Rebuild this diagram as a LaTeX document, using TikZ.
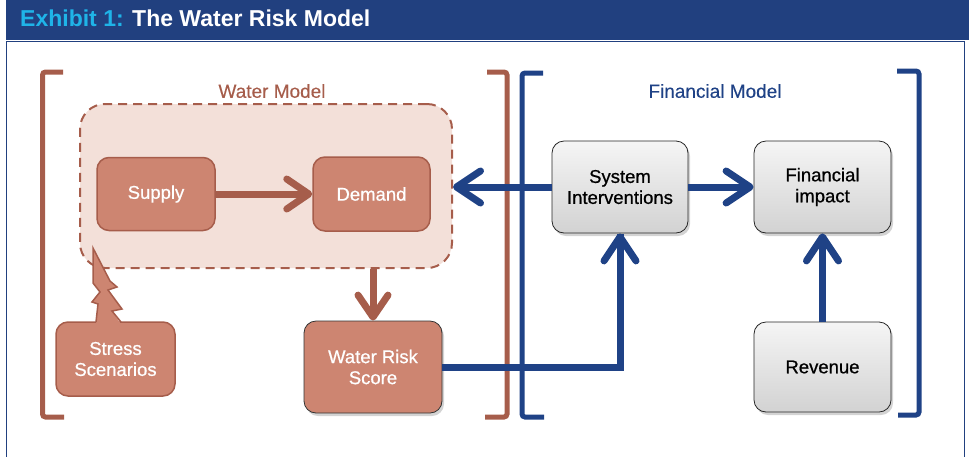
\documentclass[tikz,border=0pt]{standalone}
\usepackage{fontspec}
\setmainfont{Liberation Sans}
\newfontfamily\medfont{Liberation Sans}[FakeBold=0.7]
\newfontfamily\lblfont{Liberation Sans}[FakeBold=0.25]
\usetikzlibrary{arrows.meta,shadows,calc}
\definecolor{navy}{HTML}{21407F}
\definecolor{cyantxt}{HTML}{1FB4E8}
\definecolor{brownln}{HTML}{A65D4B}
\definecolor{brownfill}{HTML}{CD8571}
\definecolor{palefill}{HTML}{F3E0D9}
\definecolor{blueln}{HTML}{1F4286}
\begin{document}
\begin{tikzpicture}[x=1pt,y=-1pt,
 txt/.style={font=\medfont\fontsize{18.5}{21}\selectfont, align=center},
 wbox/.style={txt, rounded corners=12pt, draw=brownln, line width=1.5pt, fill=brownfill, text=white, inner sep=0pt},
 wboxs/.style={wbox, draw=black!80, line width=0.8pt, drop shadow={shadow xshift=2pt, shadow yshift=-3pt, opacity=0.35}},
 gbox/.style={txt, rounded corners=12pt, draw=black!85, line width=0.8pt, top color=gray!8, bottom color=gray!35, text=black, inner sep=0pt, drop shadow={shadow xshift=2pt, shadow yshift=-3pt, opacity=0.35}},
 barrow/.style={draw=brownln, line width=7pt, -{Straight Barb[length=22pt,width=30pt,round]}},
 blarrow/.style={draw=blueln, line width=7pt, -{Straight Barb[length=24pt,width=32pt,round]}},
 bline/.style={draw=blueln, line width=7pt},
 bbrack/.style={draw=brownln, line width=5pt, rounded corners=3pt},
 lbrack/.style={draw=blueln, line width=5pt, rounded corners=3pt},
 grplabel/.style={font=\lblfont\fontsize{19}{22}\selectfont}
]
\useasboundingbox (0,0) rectangle (969,456);
% title bar and frame
\fill[navy] (6,0) rectangle (969,39.5);
\node[anchor=base west, inner sep=0pt, font=\bfseries\fontsize{23}{26}\selectfont] (title) at (20,26.5)
  {\textcolor{cyantxt}{Exhibit 1:} \textcolor{white}{The Water Risk Model}};
\draw[navy, line width=1.2pt] (6.6,470) -- (6.6,41.6) -- (964.4,41.6) -- (964.4,470);

% brackets
\draw[bbrack] (63,72) -- (42.5,72) -- (42.5,417) -- (64,417);
\draw[bbrack] (487,72) -- (507,72) -- (507,417) -- (485,417);
\draw[lbrack] (543,73) -- (522,73) -- (522,417) -- (544,417);
\draw[lbrack] (897,71) -- (919,71) -- (919,415) -- (898,415);

\node[grplabel, text=brownln] (wmlabel) at (272,91) {Water Model};
\node[grplabel, text=blueln] (fmlabel) at (715,91) {Financial Model};

% water model dashed region
\node[draw=brownln, fill=palefill, line width=2pt, dash pattern=on 9pt off 6pt, rounded corners=25pt,
  minimum width=372pt, minimum height=164pt, inner sep=0pt] (wm) at (266,186) {};

\node[wbox, minimum width=118pt, minimum height=73pt] (supply) at (156,194) {Supply};
\node[wbox, minimum width=117pt, minimum height=74pt] (demand) at (371.5,194) {Demand};
\node[wboxs, minimum width=138pt, minimum height=92pt] (wrs) at (373,367) {Water Risk\\Score};

% stress scenarios callout
\node[wbox, minimum width=119pt, minimum height=74pt] (stress) at (115.5,359) {Stress\\Scenarios};
\fill[brownfill] (93,248) -- (110,281) -- (117,287) -- (108,290) -- (122,309) -- (112,311) -- (121,324)
  -- (96,324) -- (98,304) -- (92,302) -- (100,292) -- (93,283) -- cycle;
\draw[brownln, line width=1.5pt, line join=miter] (96,322) -- (98,304) -- (92,302) -- (100,292) -- (93,283) -- (93,248)
  -- (110,281) -- (117,287) -- (108,290) -- (122,309) -- (112,311) -- (121,322);

% financial model
\node[gbox, minimum width=136pt, minimum height=92pt] (si) at (620,187) {System\\Interventions};
\node[gbox, minimum width=137pt, minimum height=92pt] (fi) at (822.5,187) {Financial\\impact};
\node[gbox, minimum width=137pt, minimum height=90pt] (rev) at (822.5,367) {Revenue};

% connectors
\draw[barrow] (supply) -- (demand);
\draw[barrow] (wrs.north |- wm.south) -- (wrs.north);
\draw[blarrow] (si.west) -- (si.west -| wm.east);
\draw[blarrow] (si) -- (fi);
\draw[blarrow] (rev) -- (fi);
\draw[bline, line join=miter] (wrs.east) -| ([yshift=-0.5pt]si.south);
\draw[blarrow] ($(si.south)+(0,20)$) -- (si.south);
\end{tikzpicture}
\end{document}
